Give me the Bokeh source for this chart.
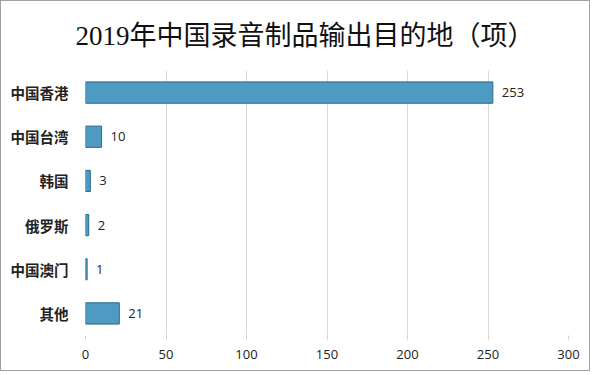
from bokeh.plotting import figure
from bokeh.models import ColumnDataSource, LabelSet, FixedTicker, Range1d
from bokeh.core.properties import value
from bokeh.embed import file_html
from bokeh.resources import INLINE

categories = ["中国香港", "中国台湾", "韩国", "俄罗斯", "中国澳门", "其他"]
values = [253, 10, 3, 2, 1, 21]
x_ticks = [0, 50, 100, 150, 200, 250, 300]

cats_rev = categories[::-1]
vals_rev = values[::-1]
src = ColumnDataSource(dict(cat=cats_rev, val=vals_rev, lab=[str(v) for v in vals_rev]))

p = figure(width=590, height=371, y_range=cats_rev, x_range=Range1d(0, 300),
           output_backend="svg", toolbar_location=None,
           min_border_left=84, min_border_right=23, min_border_top=69, min_border_bottom=37)

p.title.text = "2019年中国录音制品输出目的地（项）"
p.title.text_font = "Liberation Serif, Noto Sans CJK SC"
p.title.text_font_size = "27px"
p.title.text_font_style = "normal"
p.title.text_color = "#111111"
p.title.align = "left"
p.title.offset = -10
p.title.standoff = 35
p.title.vertical_align = "top"

# shadow
p.hbar(y="cat", right="val", left=0, height=0.5, source=src,
       fill_color="#2b5f7a", line_color=None, fill_alpha=0.3)
p.hbar(y="cat", right="val", left=0, height=0.48, source=src,
       fill_color="#4d9bc3", line_color="#2d6c8a", line_width=1)

labels = LabelSet(x="val", y="cat", text="lab", source=src, x_offset=9, y_offset=0,
                  text_baseline="middle", text_font_size="13px",
                  text_font=value("Open Sans"), text_color="#222222")
p.add_layout(labels)

p.xaxis.ticker = FixedTicker(ticks=x_ticks)
p.xaxis.axis_line_color = None
p.xaxis.major_tick_line_color = "#d0d0d0"
p.xaxis.major_tick_in = 0
p.xaxis.major_tick_out = 4
p.xaxis.minor_tick_line_color = None
p.xaxis.major_label_text_font = "Open Sans"
p.xaxis.major_label_text_font_size = "13px"
p.xaxis.major_label_text_color = "#222222"
p.xaxis.major_label_standoff = 10

p.yaxis.axis_line_color = None
p.yaxis.major_tick_line_color = None
p.yaxis.major_label_text_font = "Noto Sans CJK SC"
p.yaxis.major_label_text_font_style = "bold"
p.yaxis.major_label_text_font_size = "14.5px"
p.yaxis.major_label_text_color = "#222222"
p.yaxis.major_label_standoff = 11

p.xgrid.grid_line_color = "#d9d9d9"
p.ygrid.grid_line_color = None
p.outline_line_color = None
p.background_fill_color = "#ffffff"
p.border_fill_color = "#ffffff"
p.styles = {"border": "1px solid #a0a0a0"}

open("out.html", "w").write(file_html(p, INLINE))
